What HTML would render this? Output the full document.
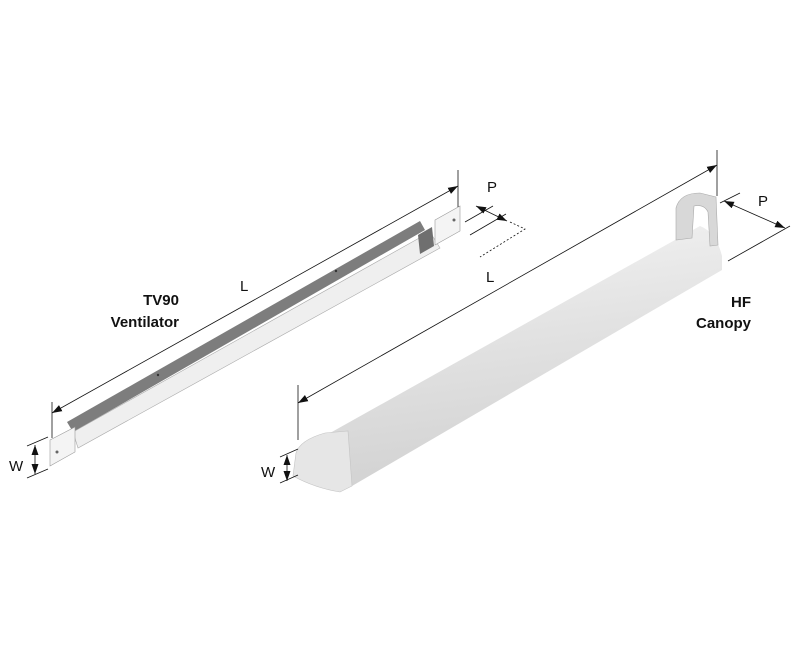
<!DOCTYPE html>
<html><head><style>
html,body{margin:0;padding:0;background:#fff;}
svg{display:block;}
</style></head><body>
<svg width="800" height="650" viewBox="0 0 800 650" xmlns="http://www.w3.org/2000/svg" font-family="Liberation Sans, sans-serif">
<defs>
<marker id="a" viewBox="0 0 10 10" refX="10" refY="5" markerWidth="10" markerHeight="10" markerUnits="userSpaceOnUse" orient="auto-start-reverse"><path d="M0,1.5 L10,5 L0,8.5 z" fill="#111"/></marker>
<linearGradient id="cg" x1="0" y1="0" x2="0.2" y2="1">
<stop offset="0" stop-color="#f4f4f4"/><stop offset="0.5" stop-color="#e2e2e2"/><stop offset="1" stop-color="#d2d2d2"/></linearGradient>
</defs>
<!-- TV90 -->
<polygon points="67,422 420,221 425,230 73,432" fill="#7d7d7d"/>
<polygon points="73,432 430,232 440,248 78,448" fill="#efefef" stroke="#aaa" stroke-width="0.6"/>
<polygon points="50,440 75,427 75,452 50,466" fill="#f4f4f4" stroke="#999" stroke-width="0.6"/>
<polygon points="435,220 460,206 460,231 435,245" fill="#f4f4f4" stroke="#999" stroke-width="0.6"/>
<polygon points="418,235 432,227 434,246 420,254" fill="#6f6f6f"/>
<circle cx="57" cy="452" r="1.5" fill="#666"/><circle cx="454" cy="220" r="1.5" fill="#666"/>
<circle cx="158" cy="375" r="1.2" fill="#333"/><circle cx="336" cy="271" r="1.2" fill="#333"/>
<!-- Canopy body -->
<path d="M330,433 L700,226 Q716,232 722,256 L722,270 L352,486 Q350,455 330,433 z" fill="url(#cg)"/>
<path d="M676,240 L676,208 Q680,193 700,193 L716,197 L718,245 L710,246 L708,212 Q704,204 694,206 L692,238 z" fill="#d8d8d8" stroke="#aaa" stroke-width="0.6"/>
<path d="M296,453 Q300,440 325,433 L348,431 L352,486 L340,492 Q315,488 293,476 z" fill="#e6e6e6" stroke="#c4c4c4" stroke-width="0.6"/>
<!-- dims TV90 -->
<g stroke="#111" stroke-width="0.8" fill="none">
<line x1="52" y1="413" x2="458" y2="186" marker-start="url(#a)" marker-end="url(#a)"/>
<line x1="52" y1="402" x2="52" y2="438"/><line x1="458" y1="170" x2="458" y2="207"/>
<line x1="27" y1="446" x2="48" y2="437"/><line x1="27" y1="478" x2="48" y2="469"/>
<line x1="35" y1="445" x2="35" y2="474" marker-start="url(#a)" marker-end="url(#a)"/>
<line x1="465" y1="222" x2="493" y2="206"/><line x1="470" y1="235" x2="506" y2="214"/>
<line x1="476" y1="206" x2="507" y2="221" marker-start="url(#a)" marker-end="url(#a)"/>
<path d="M510,222 L525,229 L480,257" stroke-dasharray="2,2"/>
<!-- canopy dims -->
<line x1="298" y1="403" x2="717" y2="165" marker-start="url(#a)" marker-end="url(#a)"/>
<line x1="298" y1="385" x2="298" y2="440"/><line x1="717" y1="150" x2="717" y2="196"/>
<line x1="720" y1="203" x2="740" y2="193"/><line x1="728" y1="261" x2="790" y2="226"/>
<line x1="724" y1="201" x2="785" y2="228" marker-start="url(#a)" marker-end="url(#a)"/>
<line x1="280" y1="457" x2="298" y2="449"/><line x1="280" y1="483" x2="298" y2="475"/>
<line x1="287" y1="455" x2="287" y2="481" marker-start="url(#a)" marker-end="url(#a)"/>
</g>
<g fill="#111" font-size="15">
<text x="240" y="291">L</text><text x="486" y="282">L</text>
<text x="487" y="192">P</text><text x="758" y="206">P</text>
<text x="9" y="471">W</text><text x="261" y="477">W</text>
</g>
<g fill="#111" font-size="15" font-weight="bold" text-anchor="end">
<text x="179" y="305">TV90</text><text x="179" y="327">Ventilator</text>
<text x="751" y="307">HF</text><text x="751" y="328">Canopy</text>
</g>
</svg>
</body></html>
